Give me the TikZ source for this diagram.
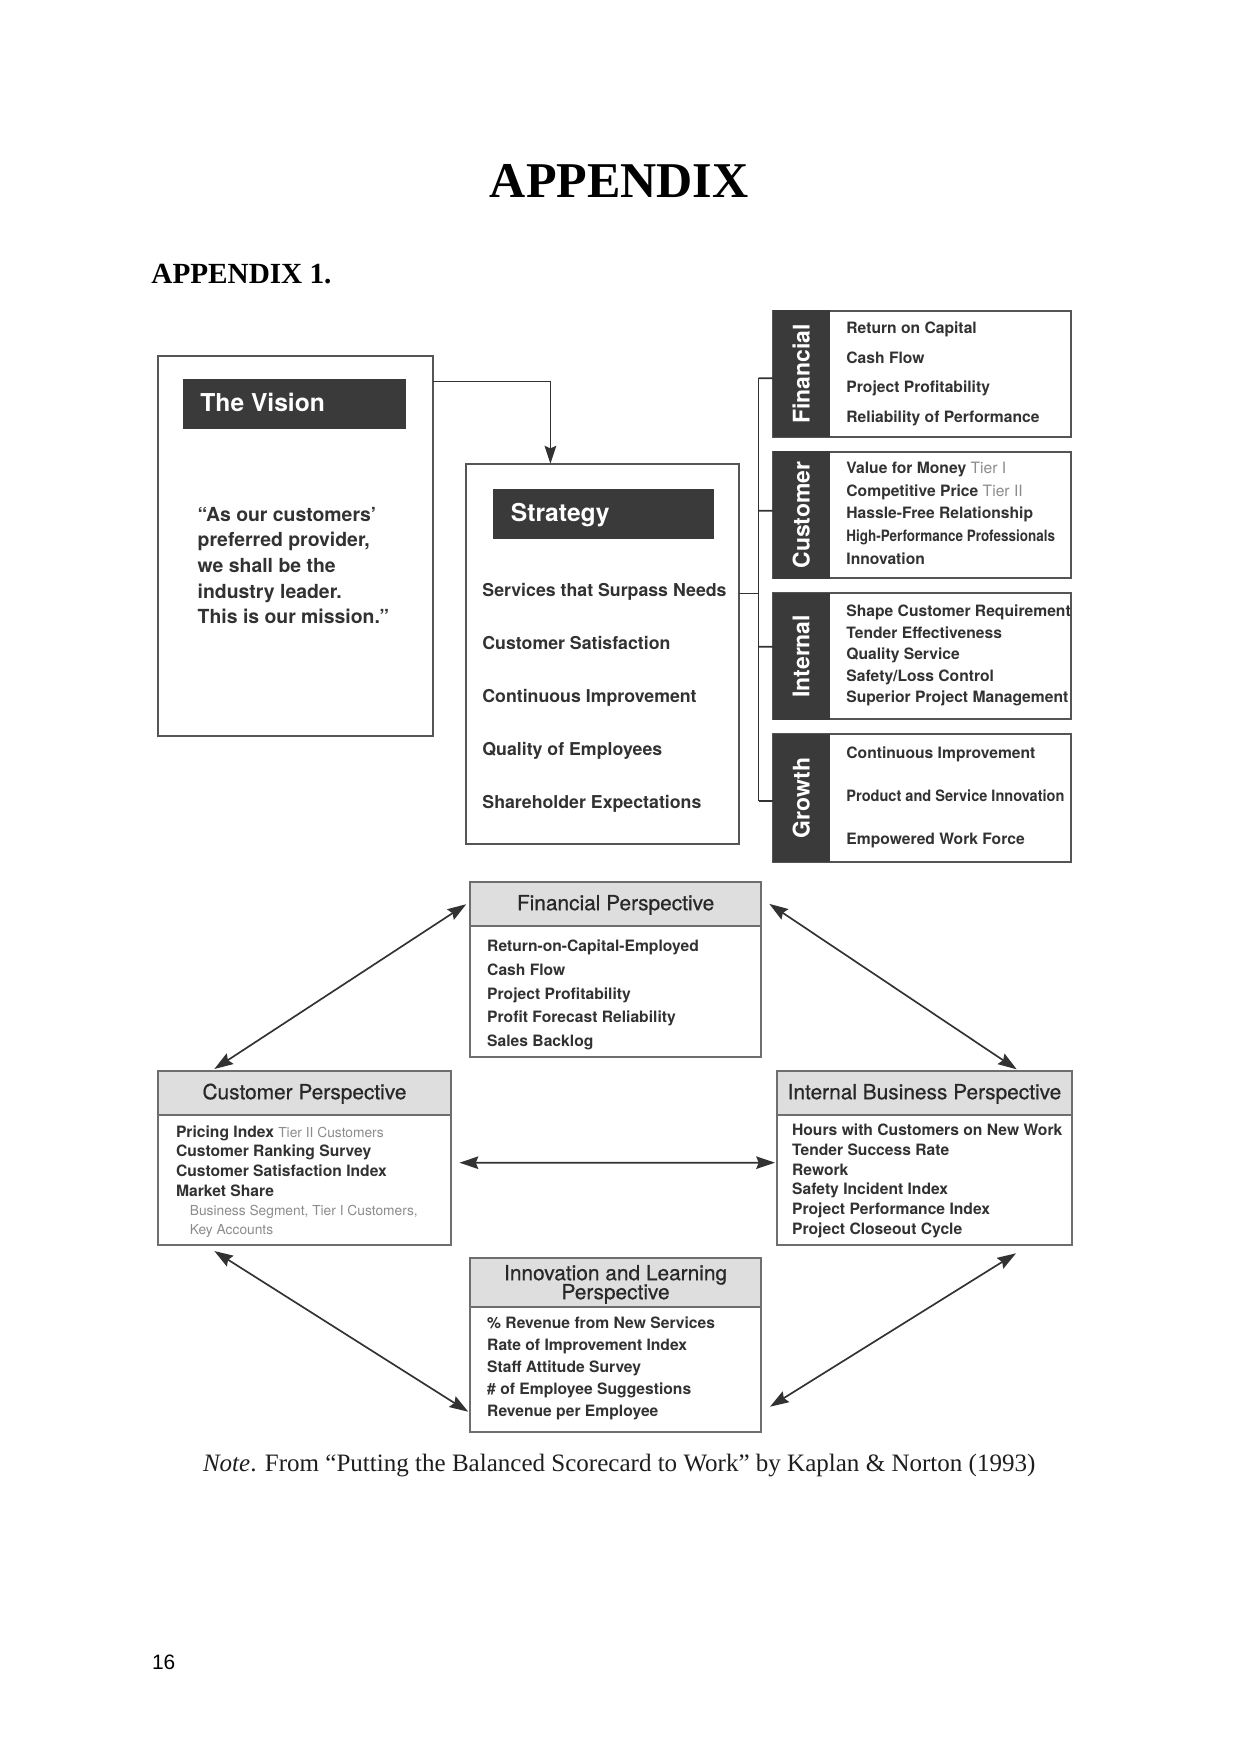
\documentclass[tikz,border=0pt]{standalone}
\usepackage{fontspec}
\usepackage{graphicx}
\setmainfont{Liberation Serif}
\newfontfamily\hv{TeX Gyre Heros}
\newfontfamily\hvmed[FakeBold=0.6]{TeX Gyre Heros}
\newfontfamily\arialf{Liberation Sans}
\usetikzlibrary{calc,arrows.meta}
\definecolor{darkfill}{RGB}{58,58,58}
\definecolor{hdrfill}{RGB}{222,222,222}
\definecolor{bordc}{RGB}{85,85,85}
\definecolor{pbordc}{RGB}{110,110,110}
\definecolor{txtc}{RGB}{50,50,50}
\definecolor{tierc}{RGB}{140,140,140}
\definecolor{arrc}{RGB}{50,50,50}
\newcommand{\rbox}[6]{\node[#6, minimum width={(#4-#2)*0.4793pt}, minimum height={(#5-#3)*0.4793pt}] (#1) at ({(#2+#4)/2},{(#3+#5)/2}) {};}
\newcommand{\tierp}[1]{{\mdseries\color{tierc}#1}}
\tikzset{
  frame/.style={draw=bordc, line width=0.9pt, fill=white, inner sep=0pt, outer sep=0pt},
  darkbar/.style={fill=darkfill, draw=darkfill, line width=0.5pt, inner sep=0pt, outer sep=0pt},
  pframe/.style={draw=pbordc, line width=0.8pt, fill=white, inner sep=0pt, outer sep=0pt},
  phead/.style={fill=hdrfill, draw=pbordc, line width=0.8pt, inner sep=0pt, outer sep=0pt},
  itm/.style={anchor=base west, inner sep=0pt, text=txtc, font=\hv\bfseries\fontsize{7.5}{9}\selectfont},
  sitm/.style={anchor=base west, inner sep=0pt, text=txtc, font=\hv\bfseries\fontsize{8.5}{10}\selectfont},
  vitm/.style={anchor=base west, inner sep=0pt, text=txtc, font=\hv\bfseries\fontsize{9.3}{11}\selectfont},
  subitm/.style={anchor=base west, inner sep=0pt, text=tierc, font=\hv\fontsize{6.6}{8}\selectfont},
  ttl/.style={anchor=base west, inner sep=0pt, text=white, font=\hv\bfseries\fontsize{11.8}{14}\selectfont},
  tablbl/.style={rotate=90, inner sep=0pt, text=white, font=\hv\bfseries\fontsize{11}{13}\selectfont},
  ptl/.style={anchor=base, inner sep=0pt, text={rgb,255:red,40;green,40;blue,40}, font=\hvmed\fontsize{10}{12}\selectfont},
  conn/.style={draw=arrc, line width=0.8pt},
  sarr/.style={draw=arrc, line width=0.8pt, arrows={-Stealth[length=8.5pt,width=5.6pt,inset=1.2pt]}},
  dbl/.style={draw=arrc, line width=0.8pt, arrows={Stealth[length=9pt,width=6pt,inset=1.2pt]-Stealth[length=9pt,width=6pt,inset=1.2pt]}}
}
\begin{document}
\begin{tikzpicture}[x=0.4793pt, y=-0.4793pt]
\useasboundingbox (0,0) rectangle (1242,1755);
\fill[white] (0,0) rectangle (1242,1755);

% page text
\node[anchor=base, inner sep=0pt, font=\bfseries\fontsize{24}{28}\selectfont] (title) at (619.3,197.3) {APPENDIX};
\node[anchor=base west, inner sep=0pt, font=\bfseries\fontsize{14}{17}\selectfont] (head) at (151,283.3) {APPENDIX 1.};
\node[anchor=base, inner sep=0pt, font=\fontsize{12}{14}\selectfont, text={rgb,255:red,30;green,30;blue,30}] (note) at (619.2,1471.7) {\textit{Note}. From “Putting the Balanced Scorecard to Work” by Kaplan \& Norton (1993)};
\node[anchor=base west, inner sep=0pt, font=\arialf\fontsize{10}{12}\selectfont] (pg) at (151.7,1669.3) {16};

% Vision
\rbox{vision}{158.2}{356}{433.4}{735.7}{frame}
\rbox{visbar}{183.5}{379.3}{405.7}{428.6}{darkbar}
\node[ttl] (vistxt) at (200,411.3) {The Vision};
\foreach \t [count=\i from 0] in {{“As our customers’},{preferred provider,},{we shall be the},{industry leader.},{This is our mission.”}}
  \node[vitm] (vq\i) at (197.3,521.2+\i*25.6) {\t};

% Strategy
\rbox{strat}{466.2}{463.6}{739.4}{843.6}{frame}
\rbox{stratbar}{493.9}{489.3}{713.7}{538.6}{darkbar}
\node[ttl] (strattxt) at (510.5,521.5) {Strategy};
\foreach \t [count=\i from 0] in {Services that Surpass Needs,Customer Satisfaction,Continuous Improvement,Quality of Employees,Shareholder Expectations}
  \node[sitm] (st\i) at (482,596.3+\i*53.1) {\t};

% Right-hand boxes
\rbox{fin}{773.3}{310.7}{1070.7}{436.7}{frame}
\rbox{fintab}{773.3}{310.7}{829}{436.7}{darkbar}
\node[tablbl] (finlbl) at (fintab) {Financial};
\foreach \t [count=\i from 0] in {Return on Capital,Cash Flow,Project Profitability,Reliability of Performance}
  \node[itm] (fi\i) at (846,333.9+\i*29.47) {\t};

\rbox{cust}{773.3}{451.7}{1070.7}{578.3}{frame}
\rbox{custtab}{773.3}{451.7}{829}{578.3}{darkbar}
\node[tablbl] (custlbl) at (custtab) {Customer};
\foreach \t [count=\i from 0] in {{Value for Money \tierp{Tier I}},{Competitive Price \tierp{Tier II}},Hassle-Free Relationship,{\scalebox{0.86}[1]{High-Performance Professionals}},Innovation}
  \node[itm] (cu\i) at (846,473.3+\i*22.75) {\t};

\rbox{int}{773.3}{593.3}{1070.7}{719.3}{frame}
\rbox{inttab}{773.3}{593.3}{829}{719.3}{darkbar}
\node[tablbl] (intlbl) at (inttab) {Internal};
\foreach \t [count=\i from 0] in {Shape Customer Requirement,Tender Effectiveness,Quality Service,Safety/Loss Control,Superior Project Management}
  \node[itm] (in\i) at (846,616.6+\i*21.5) {\t};

\rbox{grow}{773.3}{734.3}{1070.7}{861.7}{frame}
\rbox{growtab}{773.3}{734.3}{829}{861.7}{darkbar}
\node[tablbl] (growlbl) at (growtab) {Growth};
\foreach \t [count=\i from 0] in {Continuous Improvement,{\scalebox{0.93}[1]{Product and Service Innovation}},Empowered Work Force}
  \node[itm] (gr\i) at (846,758.9+\i*43) {\t};

% connectors top
\coordinate (busF) at (758.6,378.3);
\coordinate (busC) at (758.6,510.7);
\coordinate (busI) at (758.6,646.7);
\coordinate (busG) at (758.6,800.7);
\coordinate (busS) at (758.6,593.6);
\draw[conn] (busF) -- (busG);
\draw[conn] (busF) -- ($(fin.west)+(0,4.6)$);
\draw[conn] (busC) -- ($(cust.west)+(0,-4.3)$);
\draw[conn] (busI) -- ($(int.west)+(0,-9.6)$);
\draw[conn] (busG) -- ($(grow.west)+(0,2.7)$);
\draw[conn] ($(strat.north east)+(0,130)$) -- (busS);
\draw[sarr] ($(vision.north east)+(0,25.4)$) -| ($(strat.north west)+(84.2,0)$);

% Perspective boxes
\rbox{finp}{470.2}{882}{761}{1057.3}{pframe}
\rbox{finph}{470.2}{882}{761}{925.7}{phead}
\node[ptl] (finpt) at (615.6,910.2) {Financial Perspective};
\foreach \t [count=\i from 0] in {Return-on-Capital-Employed,Cash Flow,Project Profitability,Profit Forecast Reliability,Sales Backlog}
  \node[itm] (fp\i) at (486.8,951.6+\i*23.7) {\t};

\rbox{custp}{158.2}{1071}{450.8}{1245}{pframe}
\rbox{custph}{158.2}{1071}{450.8}{1115.3}{phead}
\node[ptl] (custpt) at (304.5,1099.2) {Customer Perspective};
\foreach \t [count=\i from 0] in {{Pricing Index {\fontsize{6.6}{8}\selectfont\tierp{Tier II Customers}}},Customer Ranking Survey,Customer Satisfaction Index,Market Share}
  \node[itm] (cp\i) at (175.6,1137.3+\i*19.67) {\t};
\node[subitm] (cp4) at (189.4,1215.6) {Business Segment, Tier I Customers,};
\node[subitm] (cp5) at (189.4,1234.9) {Key Accounts};

\rbox{intp}{777.3}{1071.3}{1071.7}{1245}{pframe}
\rbox{intph}{777.3}{1071.3}{1071.7}{1115}{phead}
\node[ptl] (intpt) at (924.5,1099.2) {Internal Business Perspective};
\foreach \t [count=\i from 0] in {Hours with Customers on New Work,Tender Success Rate,Rework,Safety Incident Index,Project Performance Index,Project Closeout Cycle}
  \node[itm] (ip\i) at (791.7,1135.6+\i*19.74) {\t};

\rbox{innov}{470.2}{1258.3}{761}{1431.7}{pframe}
\rbox{innovh}{470.2}{1258.3}{761}{1307.3}{phead}
\node[ptl] (innovt1) at (615.6,1280.2) {Innovation and Learning};
\node[ptl] (innovt2) at (615.6,1299.2) {Perspective};
\foreach \t [count=\i from 0] in {\% Revenue from New Services,Rate of Improvement Index,Staff Attitude Survey,\# of Employee Suggestions,Revenue per Employee}
  \node[itm] (il\i) at (486.8,1328.9+\i*21.85) {\t};

% perspective arrows
\draw[dbl] ($(finph.west)+(-4,0.4)$) -- ($(custp.north west)+(56.1,-2)$);
\draw[dbl] ($(finph.east)+(8.3,0)$) -- ($(intp.north east)+(-55,-2)$);
\draw[dbl] ($(custp.east)+(8.7,4.7)$) -- ($(intp.west)+(-2.3,4.5)$);
\draw[dbl] ($(custp.south west)+(56.1,6)$) -- ($(innov.south west)+(-2,-20)$);
\draw[dbl] ($(innov.south east)+(9,-25)$) -- ($(intp.south east)+(-55.7,8.3)$);
\end{tikzpicture}
\end{document}
